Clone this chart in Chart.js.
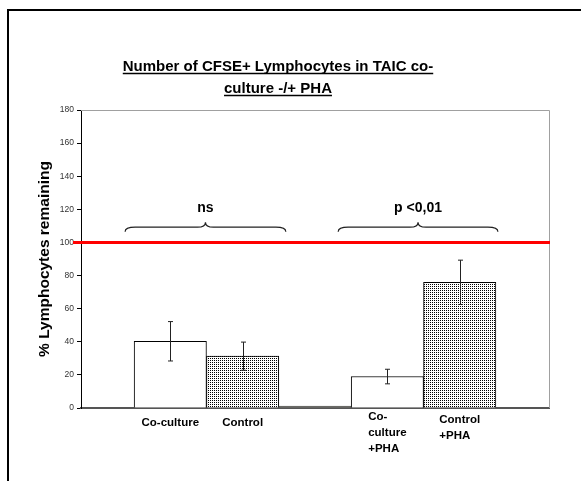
<!DOCTYPE html>
<html lang="en">
<head>
    <meta charset="UTF-8">
    <title>CFSE+ Lymphocytes</title>
    <script src="https://cdn.jsdelivr.net/npm/chart.js@4/dist/chart.umd.min.js"></script>
    <style>
        body { margin: 0; background: #fff; }
    </style>
</head>
<body>
    <canvas id="chart" width="581" height="481"></canvas>
    <script>
        // values
        const categories = [['Co-culture'], ['Control'], [''], ['Co-', 'culture', '+PHA'], ['Control', '+PHA']];
        const values = [40.3, 31.3, 1.2, 19.0, 75.9];
        const errors = [11.9, 8.5, 0, 4.4, 13.4];
        const yTicks = [0, 20, 40, 60, 80, 100, 120, 140, 160, 180];
        const referenceLine = 100;
        const brackets = [
            { text: 'ns', first: 0, last: 1, level: 106.5 },
            { text: 'p <0,01', first: 3, last: 4, level: 106.5 }
        ];
        const titleLines = ['Number of CFSE+ Lymphocytes in TAIC co-', 'culture -/+ PHA'];
        const yTitle = '% Lymphocytes remaining';

        // dotted fill for the control bars
        function dots() {
            const c = document.createElement('canvas');
            c.width = 2; c.height = 2;
            const g = c.getContext('2d');
            g.fillStyle = '#fff';
            g.fillRect(0, 0, 2, 2);
            g.fillStyle = '#000';
            g.fillRect(0, 0, 1, 1);
            return g.createPattern(c, 'repeat');
        }
        const pat = dots();

        const extras = {
            id: 'extras',
            afterDatasetsDraw(chart) {
                const ctx = chart.ctx;
                const area = chart.chartArea;
                const y = chart.scales.y;
                const meta = chart.getDatasetMeta(0);
                ctx.save();

                // top / right plot border
                ctx.strokeStyle = '#a0a0a0';
                ctx.lineWidth = 1;
                ctx.beginPath();
                ctx.moveTo(area.left, area.top + 0.5);
                ctx.lineTo(area.right + 0.5, area.top + 0.5);
                ctx.lineTo(area.right + 0.5, area.bottom);
                ctx.stroke();

                // error bars
                ctx.strokeStyle = '#222';
                ctx.lineWidth = 1;
                meta.data.forEach((bar, i) => {
                    if (!errors[i]) return;
                    const x = Math.round(bar.x) + 0.5;
                    const hi = y.getPixelForValue(values[i] + errors[i]);
                    const lo = y.getPixelForValue(values[i] - errors[i]);
                    ctx.beginPath();
                    ctx.moveTo(x, hi); ctx.lineTo(x, lo);
                    ctx.moveTo(x - 2.5, hi); ctx.lineTo(x + 2.5, hi);
                    ctx.moveTo(x - 2.5, lo); ctx.lineTo(x + 2.5, lo);
                    ctx.stroke();
                });

                // red reference line
                const ry = y.getPixelForValue(referenceLine);
                ctx.strokeStyle = '#ff0000';
                ctx.lineWidth = 3;
                ctx.beginPath();
                ctx.moveTo(73, ry);
                ctx.lineTo(area.right + 1, ry);
                ctx.stroke();

                // curly brackets
                ctx.strokeStyle = '#222';
                ctx.lineWidth = 1.2;
                ctx.fillStyle = '#000';
                ctx.font = 'bold 14px "Liberation Sans", Arial, sans-serif';
                ctx.textAlign = 'center';
                ctx.textBaseline = 'alphabetic';
                brackets.forEach((b, k) => {
                    const a = meta.data[b.first], z = meta.data[b.last];
                    const x1 = a.x - a.width / 2 - (k ? 13 : 9);
                    const x2 = z.x + z.width / 2 + (k ? 2 : 7);
                    const xm = (x1 + x2) / 2;
                    const yEnd = y.getPixelForValue(b.level);
                    const yH = yEnd - 4.5;
                    const yTip = yH - 5;
                    ctx.beginPath();
                    ctx.moveTo(x1, yEnd);
                    ctx.quadraticCurveTo(x1, yH, x1 + 10, yH);
                    ctx.lineTo(xm - 8, yH);
                    ctx.quadraticCurveTo(xm, yH, xm, yTip);
                    ctx.quadraticCurveTo(xm, yH, xm + 8, yH);
                    ctx.lineTo(x2 - 10, yH);
                    ctx.quadraticCurveTo(x2, yH, x2, yEnd);
                    ctx.stroke();
                    ctx.fillText(b.text, xm, yTip - 10);
                });

                // category labels under the bars
                ctx.font = 'bold 11.5px "Liberation Sans", Arial, sans-serif';
                ctx.textAlign = 'left';
                ctx.textBaseline = 'middle';
                meta.data.forEach((bar, i) => {
                    const lines = categories[i];
                    const w = Math.max(...lines.map(s => ctx.measureText(s).width));
                    const left = bar.x - w / 2;
                    const top = 423 - (lines.length - 1) * 3;
                    lines.forEach((s, j) => ctx.fillText(s, left, top + j * 16));
                });

                // y axis title
                ctx.save();
                ctx.translate(45, (area.top + area.bottom) / 2);
                ctx.rotate(-Math.PI / 2);
                ctx.font = 'bold 15.5px "Liberation Sans", Arial, sans-serif';
                ctx.textAlign = 'center';
                ctx.textBaseline = 'middle';
                ctx.fillText(yTitle, 0, 0);
                ctx.restore();

                // underlined title
                ctx.font = 'bold 15px "Liberation Sans", Arial, sans-serif';
                ctx.textAlign = 'center';
                ctx.textBaseline = 'alphabetic';
                ctx.lineWidth = 1.4;
                ctx.strokeStyle = '#000';
                titleLines.forEach((s, j) => {
                    const by = 71 + j * 22;
                    ctx.fillText(s, 278, by);
                    const w = ctx.measureText(s).width;
                    ctx.beginPath();
                    ctx.moveTo(278 - w / 2, by + 2.5);
                    ctx.lineTo(278 + w / 2, by + 2.5);
                    ctx.stroke();
                });

                // outer frame
                ctx.strokeStyle = '#000';
                ctx.lineWidth = 2;
                ctx.beginPath();
                ctx.moveTo(8, 481);
                ctx.lineTo(8, 10);
                ctx.lineTo(581, 10);
                ctx.stroke();

                ctx.restore();
            }
        };

        const ctx = document.getElementById('chart').getContext('2d');
        new Chart(ctx, {
            type: 'bar',
            data: {
                datasets: [{
                    data: values.map((v, i) => ({ x: i, y: v })),
                    backgroundColor: ['#ffffff', pat, '#808078', '#ffffff', pat],
                    borderColor: ['#000', '#000', '#555', '#000', '#000'],
                    borderWidth: 1,
                    barPercentage: 1,
                    categoryPercentage: 1
                }]
            },
            options: {
                responsive: false,
                animation: false,
                layout: { padding: { left: 0, top: 110, right: 32, bottom: 73 } },
                plugins: { legend: { display: false }, tooltip: { enabled: false } },
                scales: {
                    x: {
                        type: 'linear',
                        min: -1.234,
                        max: 5.234,
                        offset: false,
                        ticks: { display: false },
                        grid: { display: false, drawTicks: false },
                        border: { display: true, color: '#555', width: 2 },
                        afterFit(s) { s.height = 0; }
                    },
                    y: {
                        min: 0,
                        max: 180,
                        afterBuildTicks(s) { s.ticks = yTicks.map(v => ({ value: v })); },
                        ticks: {
                            color: '#333',
                            padding: 3,
                            font: { family: '"Liberation Sans", Arial, sans-serif', size: 8.5 }
                        },
                        grid: { drawOnChartArea: false, tickLength: 4, color: '#000' },
                        border: { color: '#000', width: 1 },
                        afterFit(s) { s.width = 81; }
                    }
                }
            },
            plugins: [extras]
        });
    </script>
</body>
</html>
